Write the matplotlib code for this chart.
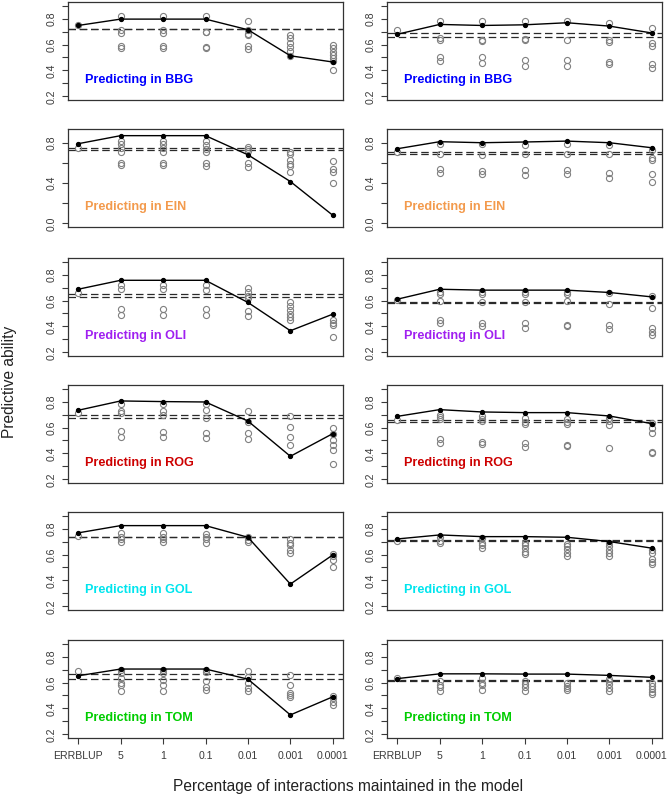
"""
預測能力（Predictive ability）— 六個族群 × 兩種訓練方式
對照圖片重畫，資料由圖上讀出
"""

# ============================================================
#  載入套件
# ============================================================
import numpy as np
import matplotlib
matplotlib.use('Agg')
import matplotlib.pyplot as plt

plt.rcParams['font.family'] = ['Liberation Sans', 'DejaVu Sans']


# ============================================================
#  資料區（由圖上估計）
# ============================================================
X_LABELS = ['ERRBLUP', '5', '1', '0.1', '0.01', '0.001', '0.0001']

POPS = ['BBG', 'EIN', 'OLI', 'ROG', 'GOL', 'TOM']
POP_COLORS = ['#0000FF', '#F39A4C', '#A020F0', '#CD0000', '#00E5EE', '#00CD00']

# --- 左欄 ---
BBG_L_MEAN = [0.747, 0.796, 0.796, 0.796, 0.714, 0.513, 0.465]
BBG_L_PTS = [[0.752],
             [0.82, 0.71, 0.69, 0.59, 0.57],
             [0.82, 0.71, 0.69, 0.585, 0.57],
             [0.82, 0.70, 0.70, 0.58, 0.57],
             [0.78, 0.71, 0.68, 0.67, 0.59, 0.565],
             [0.67, 0.65, 0.61, 0.58, 0.55, 0.515],
             [0.595, 0.57, 0.545, 0.52, 0.495, 0.47, 0.40]]
BBG_L_REF = [0.716, 0.72]

EIN_L_MEAN = [0.79, 0.87, 0.87, 0.87, 0.68, 0.415, 0.08]
EIN_L_PTS = [[0.75],
             [0.82, 0.79, 0.75, 0.71, 0.60, 0.58],
             [0.82, 0.785, 0.75, 0.71, 0.60, 0.58],
             [0.82, 0.78, 0.735, 0.71, 0.60, 0.57],
             [0.76, 0.74, 0.72, 0.60, 0.56],
             [0.71, 0.69, 0.63, 0.59, 0.57, 0.51],
             [0.62, 0.54, 0.51, 0.405]]
EIN_L_REF = [0.75, 0.725]

OLI_L_MEAN = [0.687, 0.756, 0.756, 0.756, 0.585, 0.367, 0.495]
OLI_L_PTS = [[0.656],
             [0.72, 0.687, 0.533, 0.49],
             [0.72, 0.687, 0.533, 0.49],
             [0.718, 0.68, 0.533, 0.49],
             [0.695, 0.667, 0.636, 0.622, 0.52, 0.48],
             [0.59, 0.555, 0.53, 0.495, 0.475, 0.45],
             [0.45, 0.43, 0.41, 0.315]]
OLI_L_REF = [0.654, 0.63]

ROG_L_MEAN = [0.733, 0.805, 0.80, 0.797, 0.65, 0.378, 0.553]
ROG_L_PTS = [[0.712],
             [0.784, 0.725, 0.715, 0.57, 0.527],
             [0.784, 0.728, 0.70, 0.565, 0.527],
             [0.78, 0.733, 0.676, 0.56, 0.522],
             [0.725, 0.64, 0.56, 0.514],
             [0.686, 0.604, 0.527, 0.468],
             [0.596, 0.553, 0.506, 0.468, 0.43, 0.32]]
ROG_L_REF = [0.70, 0.676]

GOL_L_MEAN = [0.767, 0.823, 0.823, 0.823, 0.733, 0.372, 0.597]
GOL_L_PTS = [[0.744],
             [0.764, 0.738, 0.718, 0.70],
             [0.764, 0.738, 0.718, 0.695],
             [0.756, 0.733, 0.718, 0.692],
             [0.733, 0.713, 0.695],
             [0.72, 0.692, 0.674, 0.636, 0.615],
             [0.603, 0.585, 0.56, 0.50]]
GOL_L_REF = [0.738, 0.733]

TOM_L_MEAN = [0.652, 0.704, 0.704, 0.704, 0.626, 0.35, 0.49]
TOM_L_PTS = [[0.686],
             [0.70, 0.673, 0.634, 0.595, 0.582, 0.536],
             [0.70, 0.673, 0.62, 0.58, 0.536],
             [0.70, 0.678, 0.608, 0.564, 0.545],
             [0.686, 0.64, 0.595, 0.556, 0.536],
             [0.66, 0.58, 0.523, 0.505, 0.49],
             [0.497, 0.48, 0.453, 0.427]]
TOM_L_REF = [0.667, 0.626]

# --- 右欄 ---
BBG_R_MEAN = [0.679, 0.755, 0.747, 0.752, 0.768, 0.742, 0.689]
BBG_R_PTS = [[0.714],
             [0.78, 0.65, 0.638, 0.505, 0.473],
             [0.78, 0.638, 0.628, 0.50, 0.455],
             [0.78, 0.643, 0.633, 0.48, 0.437],
             [0.778, 0.638, 0.48, 0.437],
             [0.768, 0.638, 0.62, 0.462, 0.45],
             [0.73, 0.615, 0.59, 0.447, 0.417]]
BBG_R_REF = [0.689, 0.658]

EIN_R_MEAN = [0.74, 0.81, 0.80, 0.807, 0.816, 0.80, 0.75]
EIN_R_PTS = [[0.71],
             [0.784, 0.685, 0.537, 0.504],
             [0.784, 0.678, 0.52, 0.487],
             [0.778, 0.685, 0.527, 0.48],
             [0.784, 0.685, 0.527, 0.487],
             [0.778, 0.685, 0.497, 0.454],
             [0.727, 0.652, 0.625, 0.487, 0.415]]
EIN_R_REF = [0.708, 0.685]

OLI_R_MEAN = [0.61, 0.687, 0.68, 0.68, 0.68, 0.662, 0.628]
OLI_R_PTS = [[0.605],
             [0.669, 0.654, 0.60, 0.45, 0.43],
             [0.666, 0.649, 0.585, 0.43, 0.405],
             [0.664, 0.649, 0.59, 0.425, 0.39],
             [0.664, 0.649, 0.597, 0.41, 0.40],
             [0.656, 0.577, 0.41, 0.38],
             [0.636, 0.541, 0.387, 0.354, 0.333]]
OLI_R_REF = [0.586, 0.583]

ROG_R_MEAN = [0.686, 0.738, 0.72, 0.715, 0.715, 0.689, 0.63]
ROG_R_PTS = [[0.66],
             [0.70, 0.68, 0.663, 0.509, 0.483],
             [0.687, 0.666, 0.65, 0.488, 0.47],
             [0.674, 0.643, 0.63, 0.483, 0.45],
             [0.666, 0.643, 0.63, 0.468, 0.457],
             [0.674, 0.648, 0.617, 0.445],
             [0.635, 0.60, 0.558, 0.41, 0.40]]
ROG_R_REF = [0.66, 0.643]

GOL_R_MEAN = [0.72, 0.751, 0.738, 0.738, 0.733, 0.70, 0.649]
GOL_R_PTS = [[0.708],
             [0.733, 0.708, 0.687],
             [0.726, 0.687, 0.67, 0.65],
             [0.687, 0.674, 0.65, 0.623, 0.603],
             [0.68, 0.662, 0.641, 0.615, 0.585],
             [0.69, 0.667, 0.633, 0.608, 0.585],
             [0.636, 0.615, 0.564, 0.546, 0.526]]
GOL_R_REF = [0.713, 0.705]

TOM_R_MEAN = [0.63, 0.667, 0.667, 0.665, 0.665, 0.655, 0.64]
TOM_R_PTS = [[0.634],
             [0.608, 0.582, 0.564, 0.538],
             [0.634, 0.60, 0.582, 0.543],
             [0.608, 0.59, 0.569, 0.536],
             [0.595, 0.574, 0.556, 0.543],
             [0.626, 0.608, 0.59, 0.556, 0.538],
             [0.595, 0.57, 0.55, 0.53, 0.51]]
TOM_R_REF = [0.617, 0.614]

LEFT = [(BBG_L_MEAN, BBG_L_PTS, BBG_L_REF), (EIN_L_MEAN, EIN_L_PTS, EIN_L_REF),
        (OLI_L_MEAN, OLI_L_PTS, OLI_L_REF), (ROG_L_MEAN, ROG_L_PTS, ROG_L_REF),
        (GOL_L_MEAN, GOL_L_PTS, GOL_L_REF), (TOM_L_MEAN, TOM_L_PTS, TOM_L_REF)]
RIGHT = [(BBG_R_MEAN, BBG_R_PTS, BBG_R_REF), (EIN_R_MEAN, EIN_R_PTS, EIN_R_REF),
         (OLI_R_MEAN, OLI_R_PTS, OLI_R_REF), (ROG_R_MEAN, ROG_R_PTS, ROG_R_REF),
         (GOL_R_MEAN, GOL_R_PTS, GOL_R_REF), (TOM_R_MEAN, TOM_R_PTS, TOM_R_REF)]


# ============================================================
#  版面設定（像素）
# ============================================================
W, H = 669, 799
COL_X = [68, 387]
COL_W = 275
ROW_TOP = [2, 129, 258, 385, 512, 640]
ROW_H = 98

TICK_COLOR = '#3a3a3a'
FRAME_COLOR = '#333333'


# ============================================================
#  畫單一面板
# ============================================================
def draw_panel(ax, means, pts, refs, pop, color, show_x):
    x = np.arange(1, len(X_LABELS) + 1)

    # 灰色空心圈：各次重複的結果
    for xi, vals in zip(x, pts):
        ax.plot([xi] * len(vals), vals, 'o', mfc='none', mec='#808080',
                ms=4.4, mew=0.8, zorder=2)

    # 虛線：參考值
    for r in refs:
        ax.axhline(r, color='#2a2a2a', lw=0.9, dashes=(6, 3), zorder=1)

    # 黑線：平均
    ax.plot(x, means, '-', color='black', lw=1.0, zorder=3)
    ax.plot(x, means, 'o', color='black', ms=2.8, zorder=4)

    ax.set_xlim(0.76, 7.24)
    if pop == 'EIN':
        ax.set_ylim(-0.036, 0.936)
        ax.set_yticks(np.arange(0, 0.81, 0.2))
        ax.set_yticklabels(['0.0', '', '0.4', '', '0.8'])
    else:
        ax.set_ylim(0.172, 0.928)
        ax.set_yticks(np.arange(0.2, 0.91, 0.1))
        ax.set_yticklabels(['0.2', '', '0.4', '', '0.6', '', '0.8', ''])

    if show_x:
        ax.set_xticks(x)
        ax.set_xticklabels(X_LABELS)
    else:
        ax.set_xticks([])

    ax.tick_params(axis='both', direction='out', length=4.5, width=0.8,
                   color=TICK_COLOR, labelsize=7.6, labelcolor=TICK_COLOR)
    ax.tick_params(axis='y', labelrotation=90, pad=4)
    ax.tick_params(axis='x', pad=5)
    for lab in ax.get_yticklabels():
        lab.set_va('center')

    for sp in ax.spines.values():
        sp.set_color(FRAME_COLOR)
        sp.set_linewidth(0.9)

    ax.text(0.062, 0.2, f'Predicting in {pop}', transform=ax.transAxes,
            color=color, fontsize=9.1, fontweight='bold', ha='left', va='center')


# ============================================================
#  主程式
# ============================================================
if __name__ == '__main__':
    fig = plt.figure(figsize=(W / 100, H / 100), dpi=100)

    for col, panels in enumerate([LEFT, RIGHT]):
        for row, (means, pts, refs) in enumerate(panels):
            left = COL_X[col] / W
            bottom = 1 - (ROW_TOP[row] + ROW_H) / H
            ax = fig.add_axes([left, bottom, COL_W / W, ROW_H / H])
            draw_panel(ax, means, pts, refs, POPS[row], POP_COLORS[row],
                       show_x=(row == len(POPS) - 1))

    fig.text(10 / W, 1 - 382 / H, 'Predictive ability', rotation=90,
             ha='center', va='center', fontsize=11.2, color='#222222')
    fig.text(348 / W, 1 - 786 / H,
             'Percentage of interactions maintained in the model',
             ha='center', va='center', fontsize=11.2, color='#222222')

    fig.savefig('out.png', dpi=100)
